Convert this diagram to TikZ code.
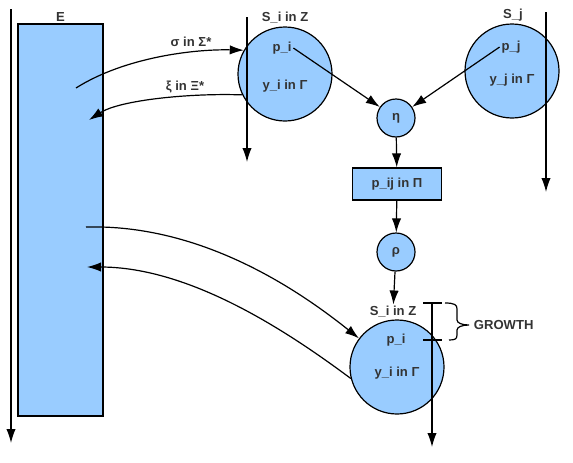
\documentclass[tikz,border=0pt]{standalone}
\usepackage{fontspec}
\setmainfont{Liberation Sans}
\usetikzlibrary{arrows.meta,fit}
\definecolor{cellblue}{RGB}{153,204,255}
\definecolor{txtgray}{RGB}{51,51,51}

\begin{document}
\begin{tikzpicture}[
		x=0.75pt,
		y=0.75pt,
		line width=0.9pt,
		every node/.style={font=\bfseries\fontsize{9.8}{11}\selectfont, text=txtgray, inner sep=1pt},
		state/.style={circle, draw=black, fill=cellblue, minimum size=70.5pt},
		op/.style={circle, draw=black, fill=cellblue, minimum size=28.5pt},
		arr/.style={-{Latex[length=10.5pt,width=7pt]}},
	]
		\useasboundingbox (0,0) rectangle (573,462);

		% environment
		\node[draw=black, fill=cellblue, inner sep=0pt, fit={(18,46) (103,438)}] (env) {};
		\node[above] (envlbl) at (env.north) {E};
		\draw[arr] (11,453) -- (11,19);

		% agents
		\node[state] (si) at (285,388) {};
		\node (silbl) at (285,444) {S\_i in Z};
		\node (pi) at (282,414) {p\_i};
		\node (yi) at (285,376) {y\_i in Γ};
		\draw[arr] (247,445) -- (247,300);

		\node[state] (sj) at (512,391) {};
		\node (sjlbl) at (513,447) {S\_j};
		\node (pj) at (511,415) {p\_j};
		\node (yj) at (512,382) {y\_j in Γ};
		\draw[arr] (546,450) -- (546,270);

		% interaction
		\node[op] (eta) at (396,344) {η};
		\node[draw=black, fill=cellblue, minimum width=66.75pt, minimum height=24pt] (pij) at (397,278) {p\_ij in Π};
		\node[op] (rho) at (396,210) {ρ};
		\draw[arr] (pi.east) -- (eta);
		\draw[arr] (pj.west) -- (eta);
		\draw[arr] (eta) -- (pij);
		\draw[arr] (pij) -- (rho);

		% grown agent
		\node[state] (si2) at (397,95) {};
		\node (si2lbl) at (393,150) {S\_i in Z};
		\node (pi2) at (396,122) {p\_i};
		\node (yi2) at (397,89) {y\_i in Γ};
		\draw[arr] (rho) -- (si2lbl);
		\draw[arr] (432,159) -- (432,15);
		\draw (423,159) -- (442,159);
		\draw (423,122) -- (442,122);
		\draw (445,159) .. controls (455,159) and (457,157) .. (457,153) -- (457,142)
			.. controls (457,139) and (462,137) .. (469,137)
			.. controls (462,137) and (457,135) .. (457,132) -- (457,127)
			.. controls (457,123) and (455,122) .. (449,122);
		\node[anchor=west] (growth) at (472,137) {GROWTH};

		% messages
		\coordinate (sigmaout) at (76,374);
		\coordinate (xiin) at (89,342);
		\coordinate (envout) at (86,235);
		\coordinate (envin) at (87,195);
		\draw[arr] (sigmaout) .. controls (125,405) and (195,413) .. (si.150);
		\node (sigmalbl) at (191,420) {σ in Σ*};
		\draw[arr] (si.206) .. controls (190,369) and (120,362) .. (xiin);
		\node (xilbl) at (185,375) {ξ in Ξ*};
		\draw[arr] (envout) .. controls (200,238) and (296,174) .. (si2.143);
		\draw[arr] (si2.194) .. controls (287,131) and (190,195) .. (envin);
	\end{tikzpicture}
\end{document}
